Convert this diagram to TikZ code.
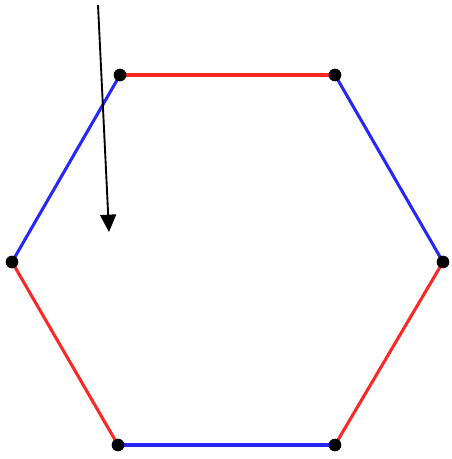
\documentclass[tikz,border=0pt]{standalone}
\usetikzlibrary{arrows.meta,backgrounds}

\begin{document}
\begin{tikzpicture}[
  x=0.03cm, y=-0.03cm,
  vert/.style ={circle, fill=black, inner sep=0pt, minimum size=0.38cm},
  redge/.style={draw=red!85!white, line width=2.6pt},
  bedge/.style={draw=blue!85!white, line width=2.6pt},
  arr/.style  ={-{Triangle[length=0.52cm, width=0.48cm]}, line width=1.6pt}
]
\useasboundingbox (0,0) rectangle (451,459);

% Hexagon corners
\node[vert] (tl) at (120,75)  {};
\node[vert] (tr) at (335,75)  {};
\node[vert] (r)  at (443,262) {};
\node[vert] (br) at (335,445) {};
\node[vert] (bl) at (118,445) {};
\node[vert] (l)  at (12,262)  {};

% Edges, behind the corners
\begin{scope}[on background layer]
\draw[redge] (tl.center) -- (tr.center);
\draw[bedge] (tr.center) -- (r.center);
\draw[redge] (r.center)  -- (br.center);
\draw[bedge] (br.center) -- (bl.center);
\draw[redge] (bl.center) -- (l.center);
\draw[bedge] (l.center)  -- (tl.center);
\end{scope}

% Pointer
\coordinate (pstart) at (98,5);
\coordinate (ptip)   at (109,232);
\draw[arr] (pstart) -- (ptip);

\end{tikzpicture}
\end{document}
